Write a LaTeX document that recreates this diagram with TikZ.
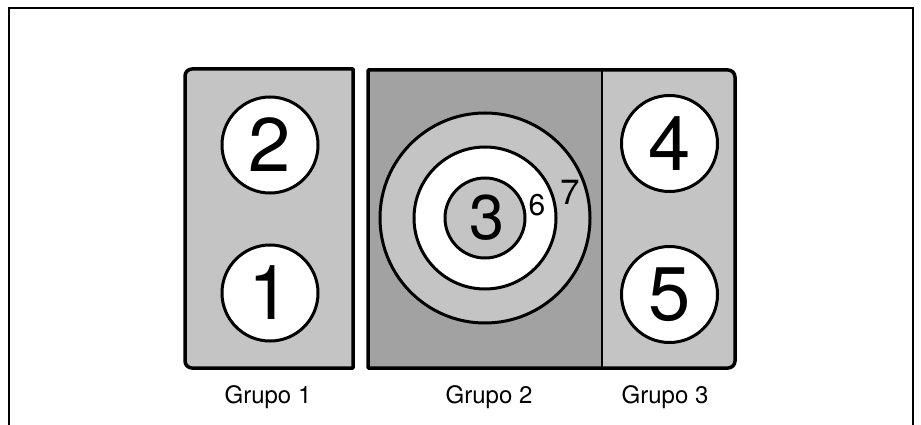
\documentclass[tikz,border=0pt]{standalone}
\usepackage{fontspec}
\setmainfont{TeX Gyre Heros}
\definecolor{lightg}{HTML}{C4C4C4}
\definecolor{darkg}{HTML}{A2A2A2}
\begin{document}
\begin{tikzpicture}[x=1pt,y=-1pt,
  frame/.style={line width=1.5pt},
  hob/.style={line width=3.5pt, line join=round},
  burner/.style={circle, draw, line width=3pt, fill=white, inner sep=0pt, outer sep=0pt, minimum size=96pt},
  bignum/.style={font=\fontsize{76}{76}\selectfont, inner sep=0pt},
  grp/.style={font=\fontsize{24}{24}\selectfont, anchor=base, inner sep=0pt}]
\useasboundingbox (0,0) rectangle (921,425);
% outer frame
\draw[frame] (9,425) -- (9,8) -- (913,8) -- (913,425);
% group 1 box
\draw[hob, fill=lightg] (353,69) -- (192,69) arc[start angle=270, end angle=180, radius=7]
  -- (185,361) arc[start angle=180, end angle=90, radius=7] -- (353,368) -- cycle;
% group 2 and 3 box
\fill[darkg] (368,70) rectangle (602,368);
\fill[lightg] (602,70) -- (728,70) arc[start angle=270, end angle=360, radius=7]
  -- (735,361) arc[start angle=0, end angle=90, radius=7] -- (602,368) -- cycle;
\draw[hob] (368,70) -- (728,70) arc[start angle=270, end angle=360, radius=7]
  -- (735,361) arc[start angle=0, end angle=90, radius=7] -- (368,368) -- cycle;
\draw[line width=2.2pt] (602,70) -- (602,368);
% burners group 1
\node[burner] (b2) at (270,145) {};
\node[bignum] (n2) at (b2.center) {2};
\node[burner] (b1) at (270,293) {};
\node[bignum] (n1) at (b1.center) {1};
% burners group 3
\node[burner] (b4) at (669.5,143.5) {};
\node[bignum] (n4) at (b4.center) {4};
\node[burner] (b5) at (669.5,294.5) {};
\node[bignum] (n5) at (b5.center) {5};
% group 2 triple burner
\node[burner, fill=lightg, minimum size=210pt] (b7) at (485,218) {};
\node[burner, minimum size=142pt] (b6) at (485,218) {};
\node[burner, fill=lightg, minimum size=80pt] (b3) at (485,218) {};
\node[font=\fontsize{63}{63}\selectfont, inner sep=0pt] (n3) at (487,218) {3};
\node[font=\fontsize{30}{30}\selectfont, inner sep=0pt] (n6) at (537,205) {6};
\node[font=\fontsize{35}{35}\selectfont, inner sep=0pt] (n7) at (570,192) {7};
% labels
\node[grp] (g1) at (268,403) {Grupo 1};
\node[grp] (g2) at (489,403) {Grupo 2};
\node[grp] (g3) at (665,403) {Grupo 3};
\end{tikzpicture}
\end{document}
